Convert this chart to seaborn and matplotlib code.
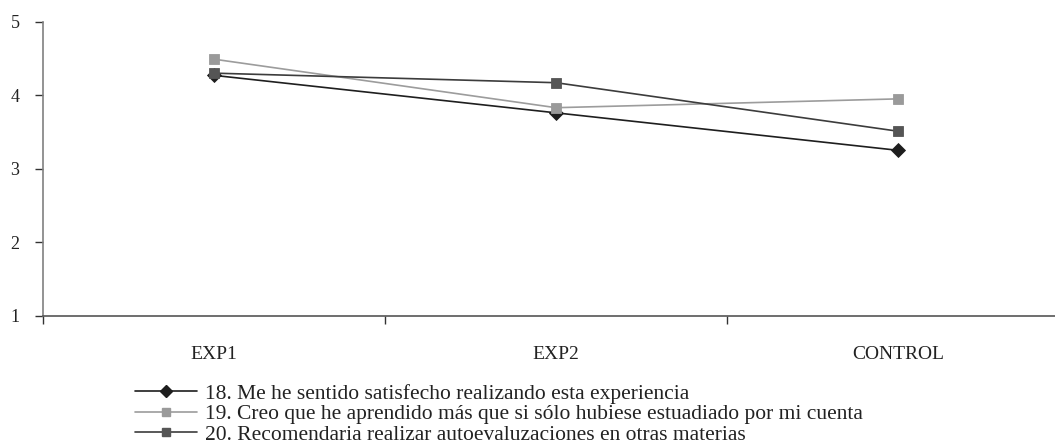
import pandas as pd
import seaborn as sns
import numpy as np
import matplotlib.pyplot as plt
from matplotlib.lines import Line2D

# data
groups = ['EXP1', 'EXP2', 'CONTROL']
item_18 = [4.27, 3.76, 3.25]
item_19 = [4.49, 3.83, 3.95]
item_20 = [4.30, 4.17, 3.51]
labels = ['18. Me he sentido satisfecho realizando esta experiencia',
          '19. Creo que he aprendido más que si sólo hubiese estuadiado por mi cuenta',
          '20. Recomendaria realizar autoevaluzaciones en otras materias']

sns.set_theme(style='white')
plt.rcParams['font.family'] = ['Liberation Serif', 'DejaVu Serif']

df = pd.DataFrame({
    'grupo': groups * 3,
    'valor': item_18 + item_19 + item_20,
    'item': [labels[0]] * 3 + [labels[1]] * 3 + [labels[2]] * 3,
})

fig = plt.figure(figsize=(10.55, 4.47), dpi=100)
ax = fig.add_axes([43 / 1055, 131.3 / 447, 1026 / 1055, 294 / 447])

styles = {
    labels[0]: dict(color='#1e1e1e', marker='D', ms=7.5, mfc='#1e1e1e'),
    labels[1]: dict(color='#9c9c9c', marker='s', ms=7, mfc='#9a9a9a'),
    labels[2]: dict(color='#3c3c3c', marker='s', ms=7, mfc='#555555'),
}

handles = []
for lab in labels:
    st = styles[lab]
    sub = df[df['item'] == lab]
    sns.lineplot(data=sub, x='grupo', y='valor', ax=ax, color=st['color'],
                 marker=st['marker'], markersize=st['ms'], markerfacecolor=st['mfc'],
                 markeredgecolor=st['mfc'], markeredgewidth=0.6, linewidth=1.2,
                 legend=False, sort=False)
    handles.append(Line2D([], [], color=st['color'], marker=st['marker'], ms=st['ms'] - 1,
                          mfc=st['mfc'], mec=st['mfc'], lw=1.2))

ax.set_xlim(-0.5, 2.5)
ax.set_ylim(1, 5)
ax.set_xlabel('')
ax.set_ylabel('')

ax.set_yticks([1, 2, 3, 4, 5])
ax.set_xticks([0, 1, 2])
ax.set_xticklabels(groups)
ax.set_xticks([-0.5, 0.5, 1.5], minor=True)
ax.tick_params(axis='y', which='major', left=True, length=6, width=1, color='#333333',
               direction='out', pad=11, labelsize=13, labelcolor='#222222')
ax.tick_params(axis='x', which='major', bottom=False, length=0, pad=22,
               labelsize=14, labelcolor='#222222')
ax.tick_params(axis='x', which='minor', bottom=True, length=6, width=1, color='#333333',
               direction='out')

for side in ['top', 'right']:
    ax.spines[side].set_visible(False)
ax.spines['left'].set_color('#808080')
ax.spines['left'].set_linewidth(1.2)
ax.spines['bottom'].set_color('#555555')
ax.spines['bottom'].set_linewidth(1.2)

fig.legend(handles, labels, loc='upper left', bbox_to_anchor=(135 / 1055, 1 - 383.5 / 447),
           frameon=False, fontsize=15.5, handlelength=2.9, handletextpad=0.36,
           labelspacing=0.03, borderpad=0, borderaxespad=0, labelcolor='#222222')

fig.savefig('out.png', dpi=100)
